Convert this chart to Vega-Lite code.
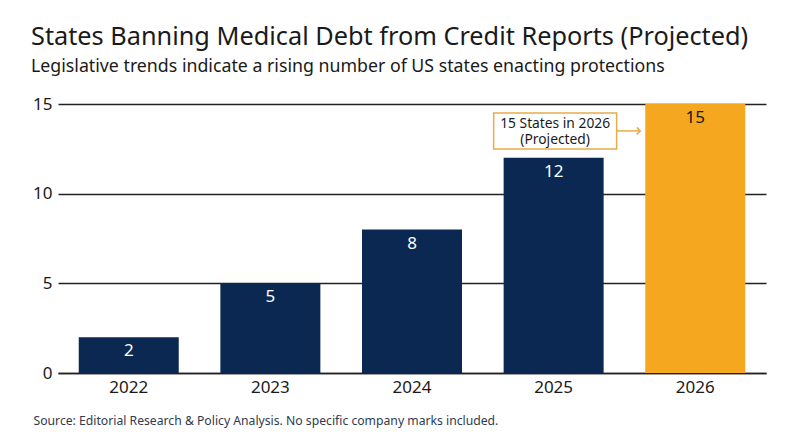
{
  "$schema": "https://vega.github.io/schema/vega-lite/v6.json",
  "width": 708,
  "height": 269,
  "autosize": {"type": "none"},
  "padding": {"left": 58, "top": 104, "right": 34, "bottom": 74},
  "background": "white",
  "title": {
    "text": "States Banning Medical Debt from Credit Reports (Projected)",
    "subtitle": "Legislative trends indicate a rising number of US states enacting protections",
    "anchor": "start",
    "frame": "group",
    "dx": -27,
    "offset": 19,
    "font": "Noto Sans",
    "fontSize": 25.3,
    "fontWeight": "normal",
    "color": "#1a1a1a",
    "subtitleFont": "Noto Sans",
    "subtitleFontSize": 17.75,
    "subtitleColor": "#1a1a1a",
    "subtitlePadding": 8
  },
  "datasets": {
    "states": [
      {"year": "2022", "states": 2, "status": "actual"},
      {"year": "2023", "states": 5, "status": "actual"},
      {"year": "2024", "states": 8, "status": "actual"},
      {"year": "2025", "states": 12, "status": "actual"},
      {"year": "2026", "states": 15, "status": "projected"}
    ],
    "note": [
      {"year": "2025", "target": "2026", "at": 13.5, "label": ["15 States in 2026", "(Projected)"]}
    ]
  },
  "encoding": {
    "x": {
      "field": "year",
      "type": "nominal",
      "scale": {"paddingInner": 0.293, "paddingOuter": 0.146},
      "axis": {
        "title": "Source: Editorial Research & Policy Analysis. No specific company marks included.",
        "titleFont": "Noto Sans",
        "titleFontSize": 12.2,
        "titleFontWeight": "normal",
        "titleColor": "#2f3a4f",
        "titleAnchor": "start",
        "titleAlign": "left",
        "titleBaseline": "middle",
        "titleX": -25,
        "titleY": 47,
        "labelAngle": 0,
        "labelFont": "Noto Sans",
        "labelFontSize": 17,
        "labelColor": "#1a1a1a",
        "labelPadding": 6,
        "ticks": false,
        "domainColor": "#222222",
        "domainWidth": 1.5
      }
    },
    "y": {
      "field": "states",
      "type": "quantitative",
      "scale": {"domain": [0, 15], "nice": false},
      "axis": {
        "title": null,
        "values": [0, 5, 10, 15],
        "labelFont": "Noto Sans",
        "labelFontSize": 17,
        "labelColor": "#1a1a1a",
        "labelPadding": 6,
        "ticks": false,
        "domain": false,
        "grid": true,
        "gridColor": "#222222",
        "gridWidth": 1.5
      }
    }
  },
  "layer": [
    {
      "data": {"name": "states"},
      "mark": {"type": "bar", "width": 100},
      "encoding": {
        "color": {
          "field": "status",
          "type": "nominal",
          "legend": null,
          "scale": {"domain": ["actual", "projected"], "range": ["#0b2852", "#f5a81f"]}
        }
      }
    },
    {
      "data": {"name": "states"},
      "mark": {"type": "text", "baseline": "middle", "dy": 14, "font": "Noto Sans", "fontSize": 17},
      "encoding": {
        "text": {"field": "states", "type": "quantitative"},
        "color": {
          "field": "status",
          "type": "nominal",
          "legend": null,
          "scale": {"domain": ["actual", "projected"], "range": ["#ffffff", "#1a1a1a"]}
        }
      }
    },
    {
      "data": {"name": "note"},
      "mark": {"type": "rule", "color": "#e3ad4b", "strokeWidth": 1.5, "xOffset": 63, "x2Offset": -55},
      "encoding": {
        "x": {"field": "year", "type": "nominal"},
        "x2": {"field": "target"},
        "y": {"field": "at", "type": "quantitative"}
      }
    },
    {
      "data": {"name": "note"},
      "mark": {
        "type": "point",
        "shape": "M-1,-1L0,0L-1,1",
        "size": 49,
        "filled": false,
        "color": "#e3ad4b",
        "strokeWidth": 1.5,
        "opacity": 1,
        "xOffset": -55
      },
      "encoding": {
        "x": {"field": "target", "type": "nominal"},
        "y": {"field": "at", "type": "quantitative"}
      }
    },
    {
      "data": {"name": "note"},
      "mark": {
        "type": "rect",
        "width": 123,
        "height": 36,
        "xOffset": 1.5,
        "fill": "white",
        "stroke": "#e3ad4b",
        "strokeWidth": 1.5
      },
      "encoding": {
        "x": {"field": "year", "type": "nominal"},
        "y": {"field": "at", "type": "quantitative"}
      }
    },
    {
      "data": {"name": "note"},
      "mark": {
        "type": "text",
        "align": "center",
        "baseline": "middle",
        "lineHeight": 16,
        "dy": -7,
        "xOffset": 1.5,
        "font": "Noto Sans",
        "fontSize": 13.8,
        "color": "#1a1a1a"
      },
      "encoding": {
        "x": {"field": "year", "type": "nominal"},
        "y": {"field": "at", "type": "quantitative"},
        "text": {"field": "label"}
      }
    }
  ],
  "resolve": {"scale": {"color": "independent"}},
  "config": {"view": {"stroke": null}}
}
